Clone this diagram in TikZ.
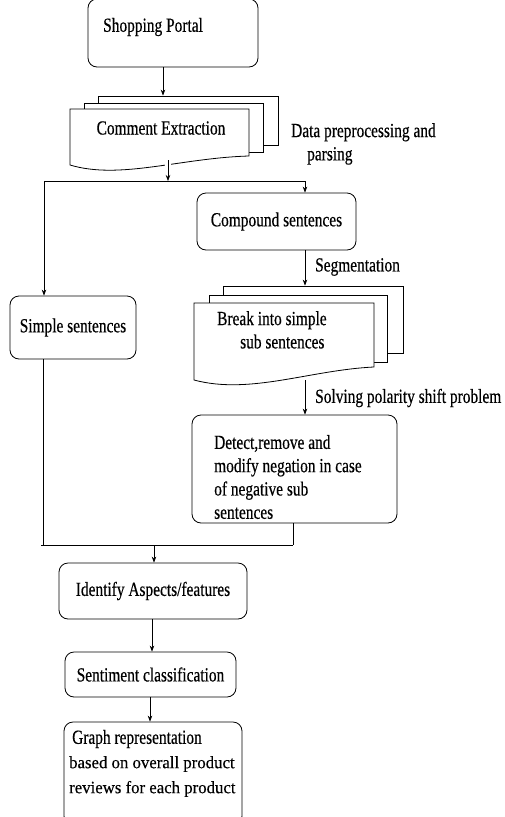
\documentclass[tikz,border=0pt]{standalone}
\usepackage{fontspec}
\setmainfont{Liberation Serif}
\newfontfamily\narrowf{Liberation Serif}[FakeStretch=0.77,FakeBold=0.4]
\newfontfamily\widef{Liberation Serif}[FakeStretch=0.97,FakeBold=0.3]
\usetikzlibrary{arrows.meta,calc}
\begin{document}
\begin{tikzpicture}[x=1pt,y=-1pt,
  box/.style={draw,rounded corners=9pt,line width=0.8pt,fill=white,inner sep=0pt},
  doc/.style={draw,line width=0.8pt,fill=white,inner sep=0pt},
  txt/.style={font=\narrowf\fontsize{20}{23.3}\selectfont,inner sep=0pt},
  arr/.style={-{Stealth[length=6pt,width=4.5pt]},line width=0.7pt},
  ln/.style={line width=0.8pt}]
\clip (0,0) rectangle (505,817);
\fill[white] (0,0) rectangle (505,817);

% Shopping portal
\node[box,minimum width=170pt,minimum height=68pt] (sp) at (173,33) {};
\node[txt,anchor=west] (spt) at (103,27) {Shopping Portal};

% Comment extraction (multi-document)
\node[doc,minimum width=180pt,minimum height=49pt] (ceback) at (188,120.5) {};
\node[doc,minimum width=179pt,minimum height=49pt] (cemid) at (173.5,127.5) {};
\filldraw[doc] (70,109) -- (249,109) -- (249,156)
  .. controls (180,158) and (120,180) .. (70,165) -- cycle;
\node[txt] (ce) at (161,128) {Comment Extraction};
\node[txt,anchor=north west,align=left] (dpl) at (291,123)
  {Data preprocessing and\\\hspace{16pt}parsing};

\coordinate (a1) at (163,0);
\draw[arr] (sp.south -| a1) -- (ceback.north -| a1);

% junction
\coordinate (jl) at (44,181);
\coordinate (jr) at (305,181);
\coordinate (j1) at (168,181);
\coordinate (cebot) at (168,160);
\draw[ln] (jl) -- (jr);
\draw[white,line width=6pt] (168,161) -- (168,168);
\draw[arr] (cebot) -- (j1);

% Compound
\node[box,minimum width=159pt,minimum height=57pt,txt] (cs) at (276.5,221.5) {Compound sentences};
\draw[arr] (jr) -- (cs.north -| jr);

% Simple
\node[box,minimum width=126pt,minimum height=63pt,txt] (ss) at (73,327.5) {Simple sentences};
\draw[arr] (jl) -- (ss.north -| jl);

% Break into simple (multi-document)
\node[doc,minimum width=180pt,minimum height=67pt] (brback) at (313,319.5) {};
\node[doc,minimum width=178pt,minimum height=67pt] (brmid) at (298,328.5) {};
\filldraw[doc] (194,303) -- (374,303) -- (374,367)
  .. controls (310,370) and (250,395) .. (194,380) -- cycle;
\node[txt,anchor=north west,align=left] (br) at (217,311)
  {Break into simple\\\hspace{23pt}sub sentences};
\draw[arr] (cs.south -| jr) -- (brback.north -| jr);
\node[txt,anchor=west] (seg) at (315,267) {Segmentation};

% Detect
\node[box,minimum width=205pt,minimum height=108pt] (dt) at (294.5,469) {};
\node[txt,anchor=west,align=left] (dtt) at (214,477)
  {Detect,remove and\\modify negation in case\\of negative sub\\sentences};
\coordinate (brbot) at (305,380);
\draw[arr] (brbot) -- (dt.north -| brbot);
\node[txt,anchor=west] (sol) at (315,398) {Solving polarity shift problem};

% merge
\coordinate (jbl) at (41,545);
\coordinate (jll) at (43,545);
\coordinate (jbr) at (293,545);
\coordinate (jb) at (154,545);
\draw[ln] (ss.south -| jll) -- (jll);
\draw[ln] (jbr |- dt.south) -- (jbr);
\draw[ln] (jbl) -- (jbr);

% Identify
\node[box,minimum width=188pt,minimum height=56pt,txt] (ia) at (153,591) {Identify Aspects/features};
\draw[arr] (jb) -- (ia.north -| jb);

% Sentiment
\node[box,minimum width=171pt,minimum height=45pt,txt] (sc) at (150.5,674.5) {Sentiment classification};
\coordinate (a2) at (152,0);
\draw[arr] (ia.south -| a2) -- (sc.north -| a2);

% Graph
\node[box,minimum width=178pt,minimum height=103pt] (gr) at (153,773.5) {};
\coordinate (a3) at (150,0);
\draw[arr] (sc.south -| a3) -- (gr.north -| a3);
\node[txt,anchor=west] (gr1) at (72,739) {Graph representation};
\node[font=\widef\fontsize{17.3}{20}\selectfont,inner sep=0pt,anchor=west,align=left] (gr2) at (69,776.5)
  {based on overall product\\[5pt]reviews for each product};
\end{tikzpicture}
\end{document}
